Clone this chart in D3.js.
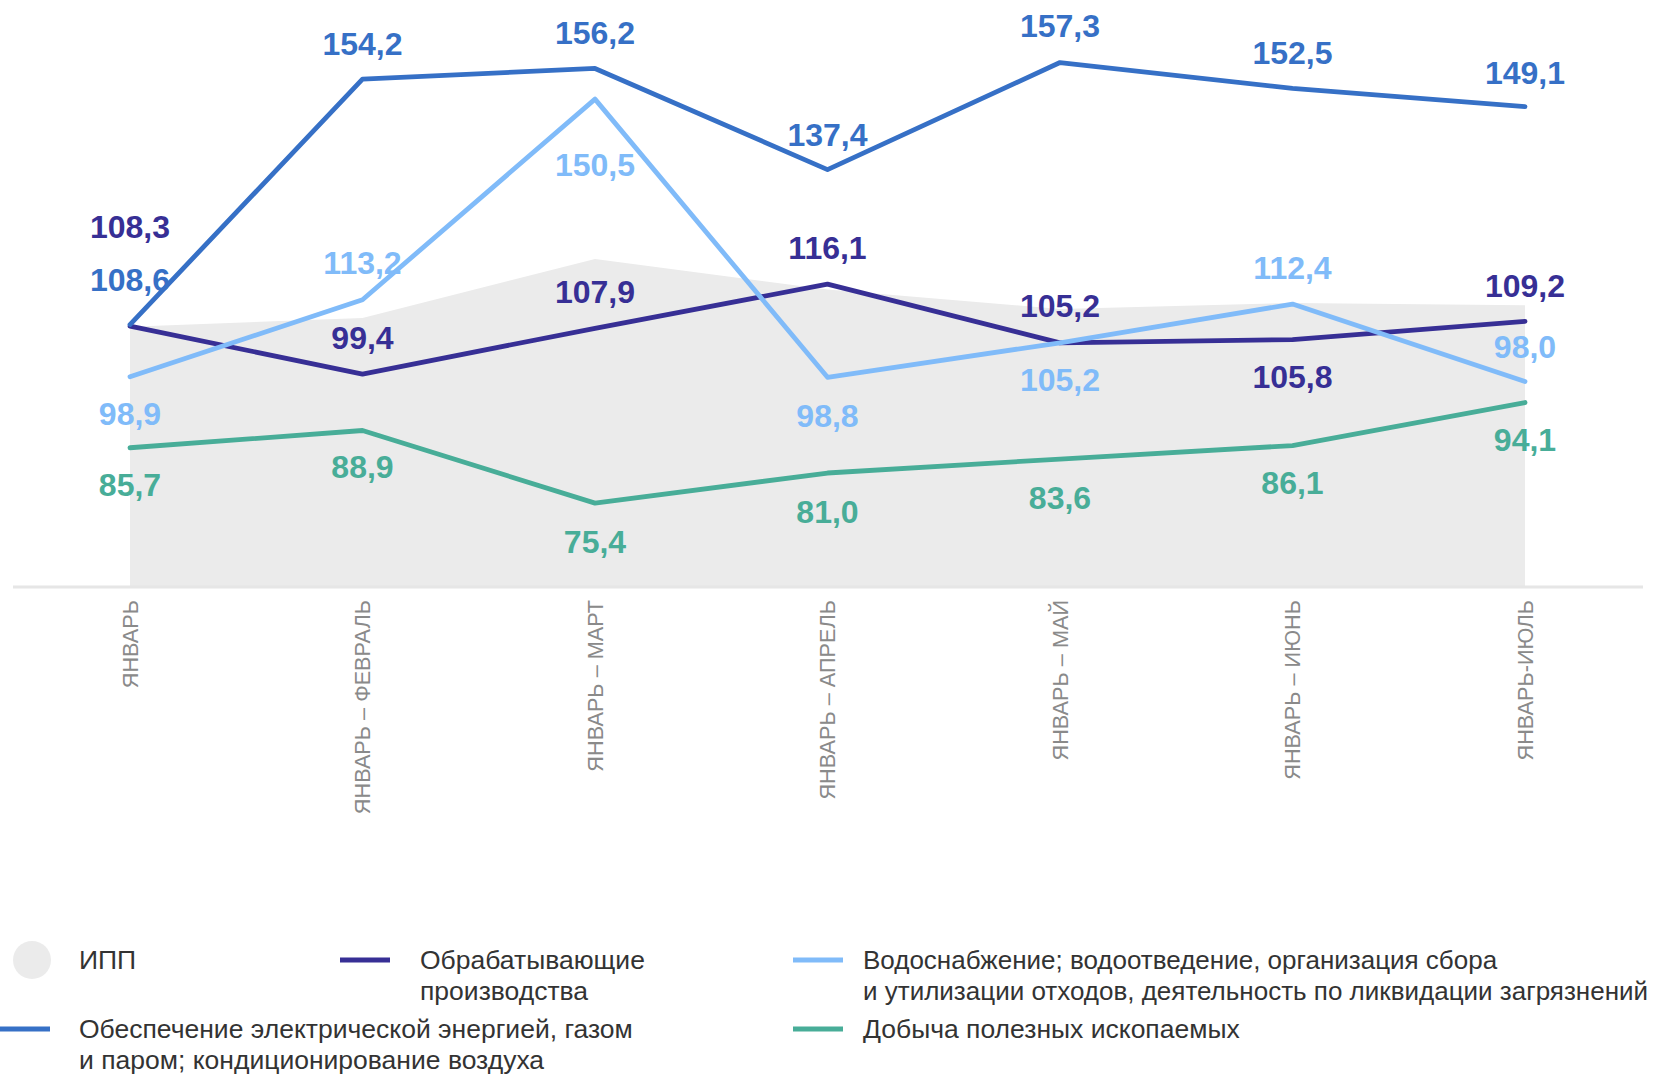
<!DOCTYPE html>
<html><head><meta charset="utf-8">
<script src="https://cdn.jsdelivr.net/npm/d3@7"></script>
<style>
html,body{margin:0;padding:0;background:#fff;}
svg{display:block;font-family:"Liberation Sans",Arial,sans-serif;}
</style></head>
<body>
<svg id="chart" width="1657" height="1075"></svg>
<script>
// ---- data ----
const categories = ["ЯНВАРЬ","ЯНВАРЬ – ФЕВРАЛЬ","ЯНВАРЬ – МАРТ","ЯНВАРЬ – АПРЕЛЬ","ЯНВАРЬ – МАЙ","ЯНВАРЬ – ИЮНЬ","ЯНВАРЬ-ИЮЛЬ"];
const ippValues = [108.2, 109.8, 120.8, 115.1, 111.5, 112.6, 112.2];
const manufacturingValues = [108.3, 99.4, 107.9, 116.1, 105.2, 105.8, 109.2];
const electricityValues = [108.6, 154.2, 156.2, 137.4, 157.3, 152.5, 149.1];
const waterValues = [98.9, 113.2, 150.5, 98.8, 105.2, 112.4, 98.0];
const miningValues = [85.7, 88.9, 75.4, 81.0, 83.6, 86.1, 94.1];
const legendLabels = {
  ipp: ["ИПП"],
  manufacturing: ["Обрабатывающие", "производства"],
  water: ["Водоснабжение; водоотведение, организация сбора", "и утилизации отходов, деятельность по ликвидации загрязнений"],
  electricity: ["Обеспечение электрической энергией, газом", "и паром; кондиционирование воздуха"],
  mining: ["Добыча полезных ископаемых"]
};

// ---- layout / style (not data) ----
const colors = {ipp:"#ebebeb", manufacturing:"#372f95", electricity:"#3670c6", water:"#80bbf9", mining:"#48ad98"};
const labelDy = {
  manufacturing: [-100, -37, -37, -37, -37, 37, -36],
  electricity:   [-45, -36, -36, -35, -37, -36, -34],
  water:         [37, -37, 65, 38, 37, -37, -35],
  mining:        [37, 36, 38, 38, 38, 37, 37]
};

const svg = d3.select("#chart");
const x = d3.scalePoint().domain(categories).range([130, 1525]);
const y = d3.scaleLinear().domain([60, 160]).range([586, 48]);
const fmt = v => d3.format(".1f")(v).replace(".", ",");

// area (ИПП)
const area = d3.area().x((d,i)=>x(categories[i])).y0(y(60)).y1(d=>y(d));
svg.append("path").datum(ippValues).attr("d", area).attr("fill", colors.ipp);

// baseline axis
const xAxis = d3.axisBottom(x).tickSize(0).tickFormat("");
const axG = svg.append("g").attr("transform", `translate(0,${y(60)})`).call(xAxis);
axG.select(".domain").remove();
svg.append("line").attr("x1", 13).attr("x2", 1643).attr("y1", y(60)+1).attr("y2", y(60)+1)
  .attr("stroke", "#e6e6e6").attr("stroke-width", 3);

// category labels
svg.append("g").selectAll("text").data(categories).join("text")
  .attr("transform", d => `translate(${x(d)},600) rotate(-90)`)
  .attr("text-anchor", "end").attr("dy", "0.35em")
  .attr("font-size", 21.7).attr("fill", "#8a8a8a")
  .text(d => d);

// lines
const line = d3.line().x((d,i)=>x(categories[i])).y(d=>y(d));
const seriesOrder = [
  ["mining", miningValues],
  ["manufacturing", manufacturingValues],
  ["electricity", electricityValues],
  ["water", waterValues]
];
seriesOrder.forEach(([key, vals]) => {
  svg.append("path").datum(vals).attr("d", line)
    .attr("fill", "none").attr("stroke", colors[key]).attr("stroke-width", 4.8)
    .attr("stroke-linejoin", "round").attr("stroke-linecap", "round");
});

// value labels
seriesOrder.forEach(([key, vals]) => {
  svg.append("g").selectAll("text").data(vals).join("text")
    .attr("x", (d,i)=>x(categories[i]))
    .attr("y", (d,i)=>y(d) + labelDy[key][i])
    .attr("dy", "0.36em").attr("text-anchor", "middle")
    .attr("font-size", 32).attr("font-weight", "bold")
    .attr("fill", colors[key]).text(d => fmt(d));
});

// legend
const legendItems = [
  {key:"ipp", x:32, y:960, type:"circle"},
  {key:"manufacturing", x:340, y:960, type:"line"},
  {key:"water", x:793, y:960, type:"line"},
  {key:"electricity", x:0, y:1029, type:"line"},
  {key:"mining", x:793, y:1029, type:"line"}
];
const textX = {ipp:79, manufacturing:420, water:863, electricity:79, mining:863};
const fontSz = {ipp:26.5, manufacturing:26.5, water:26, electricity:26.5, mining:26.5};
const lg = svg.append("g");
legendItems.forEach(it => {
  if (it.type === "circle") {
    lg.append("circle").attr("cx", it.x).attr("cy", it.y).attr("r", 19).attr("fill", colors.ipp);
  } else {
    lg.append("line").attr("x1", it.x).attr("x2", it.x + 50).attr("y1", it.y).attr("y2", it.y)
      .attr("stroke", colors[it.key]).attr("stroke-width", 5);
  }
  const t = lg.append("text").attr("x", textX[it.key]).attr("y", it.y)
    .attr("font-size", fontSz[it.key]).attr("fill", "#333");
  legendLabels[it.key].forEach((s, j) => {
    t.append("tspan").attr("x", textX[it.key]).attr("dy", j === 0 ? "0.35em" : 31).text(s);
  });
});
</script>
</body></html>
